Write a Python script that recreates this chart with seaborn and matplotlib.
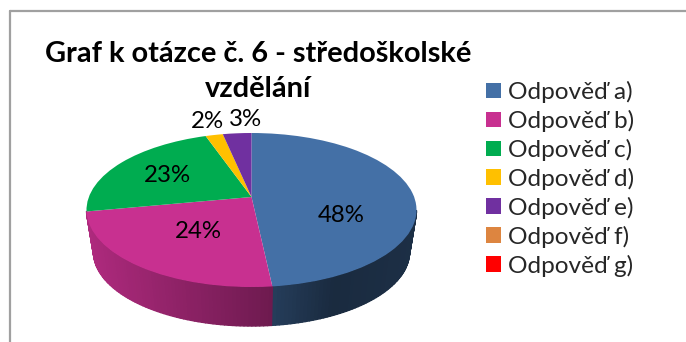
import numpy as np
import matplotlib
matplotlib.use("Agg")
import matplotlib.pyplot as plt
from matplotlib.collections import PolyCollection
from matplotlib.lines import Line2D
from matplotlib.transforms import Transform
from matplotlib.colors import to_rgb
import seaborn as sns

title_text = "Graf k otázce č. 6 - středoškolské\nvzdělání"
answers = ["Odpověď a)", "Odpověď b)", "Odpověď c)", "Odpověď d)",
           "Odpověď e)", "Odpověď f)", "Odpověď g)"]
shares = [48.3, 23.7, 22.7, 2.0, 3.3, 0, 0]
slice_colors = ["#4470A6", "#C83090", "#00AC50", "#FFC000", "#7030A0", "#DD8540", "#FF0000"]

# layout (pixels of the 686x342 picture)
CX, TOP_CY, TOP_A, TOP_B, TILT = 251.5, 210.0, 165.0, 77.0, 0.169
BOT_CY, BOT_A, BOT_B = 252.0, 158.0, 74.0
PCT_XY = [(341, 216), (198, 231), (167, 175), (207, 122), (246, 120)]
FONT = "Lato"

sns.set_theme(style="white")
plt.rcParams["font.family"] = [FONT, "DejaVu Sans"]


def boost(x, y):
    d = 1 + TILT * y
    return x * np.sqrt(1 - TILT ** 2) / d, (y + TILT) / d


class TiltedPie(Transform):
    input_dims = output_dims = 2

    def transform_non_affine(self, values):
        v = np.asarray(values, dtype=float)
        X, Y = boost(v[:, 0], v[:, 1])
        return np.column_stack([CX + TOP_A * X, TOP_CY - TOP_B * Y])


fig = plt.figure(figsize=(6.86, 3.42), dpi=100, facecolor="white")
ax = fig.add_axes([0, 0, 1, 1])

wedges, _, pct = ax.pie(
    shares, colors=sns.color_palette(slice_colors, len(slice_colors)),
    startangle=90, counterclock=False,
    autopct=lambda p: f"{p:.0f}%" if p > 0 else "",
    textprops=dict(fontsize=17.3, color="black"),
)
ax.set_aspect("auto")
ax.set_xlim(0, 686)
ax.set_ylim(342, 0)
ax.set_frame_on(False)

tilt = TiltedPie() + ax.transData
for w in wedges:
    w.set_transform(tilt)
    w.set_linewidth(0)
for t, xy in zip(pct, PCT_XY):
    t.set_position(xy)
    t.set_ha("center")
    t.set_va("center")

# rim of the pie, shaded from left to right
shade_x = [-1.0, 0.12, 0.5, 1.0]
shade_f = [0.87, 0.55, 0.38, 0.42]
fractions = np.concatenate([[0], np.cumsum(shares)]) / np.sum(shares)
quads, rim = [], []
for i, col in enumerate(slice_colors):
    if shares[i] == 0:
        continue
    n = max(2, int(shares[i] * 3))
    ang = 2 * np.pi * np.linspace(fractions[i], fractions[i + 1], n + 1)
    X, Y = boost(np.sin(ang), np.cos(ang))
    for k in range(n):
        if Y[k] > -0.03 and Y[k + 1] > -0.03:
            continue
        quads.append([
            (CX + TOP_A * X[k], TOP_CY - TOP_B * Y[k]),
            (CX + TOP_A * X[k + 1], TOP_CY - TOP_B * Y[k + 1]),
            (CX + BOT_A * X[k + 1], BOT_CY - BOT_B * Y[k + 1]),
            (CX + BOT_A * X[k], BOT_CY - BOT_B * Y[k]),
        ])
        f = np.interp((X[k] + X[k + 1]) / 2, shade_x, shade_f)
        rim.append(tuple(np.array(to_rgb(col)) * f))
side = PolyCollection(quads, facecolors=rim, edgecolors=rim, linewidths=1.0, zorder=0.5)
ax.add_collection(side)

ax.set_title(title_text, fontsize=20.9, fontweight="bold", color="black",
             x=258 / 686, y=1 - 97 / 342, linespacing=1.45, loc="center", pad=0)

leg = ax.legend(wedges, answers, loc="upper left", bbox_to_anchor=(486 / 686, 1 - 81 / 342),
                frameon=False, fontsize=17.6, handlelength=0.61, handleheight=0.61,
                handletextpad=0.29, labelspacing=0.28, borderpad=0, borderaxespad=0)

ax.add_line(Line2D([10, 10], [11, 342], color="#A0A0A0", lw=1.6))
ax.add_line(Line2D([10, 686], [11, 11], color="#A0A0A0", lw=1.6))

fig.savefig("out.png", dpi=100)
